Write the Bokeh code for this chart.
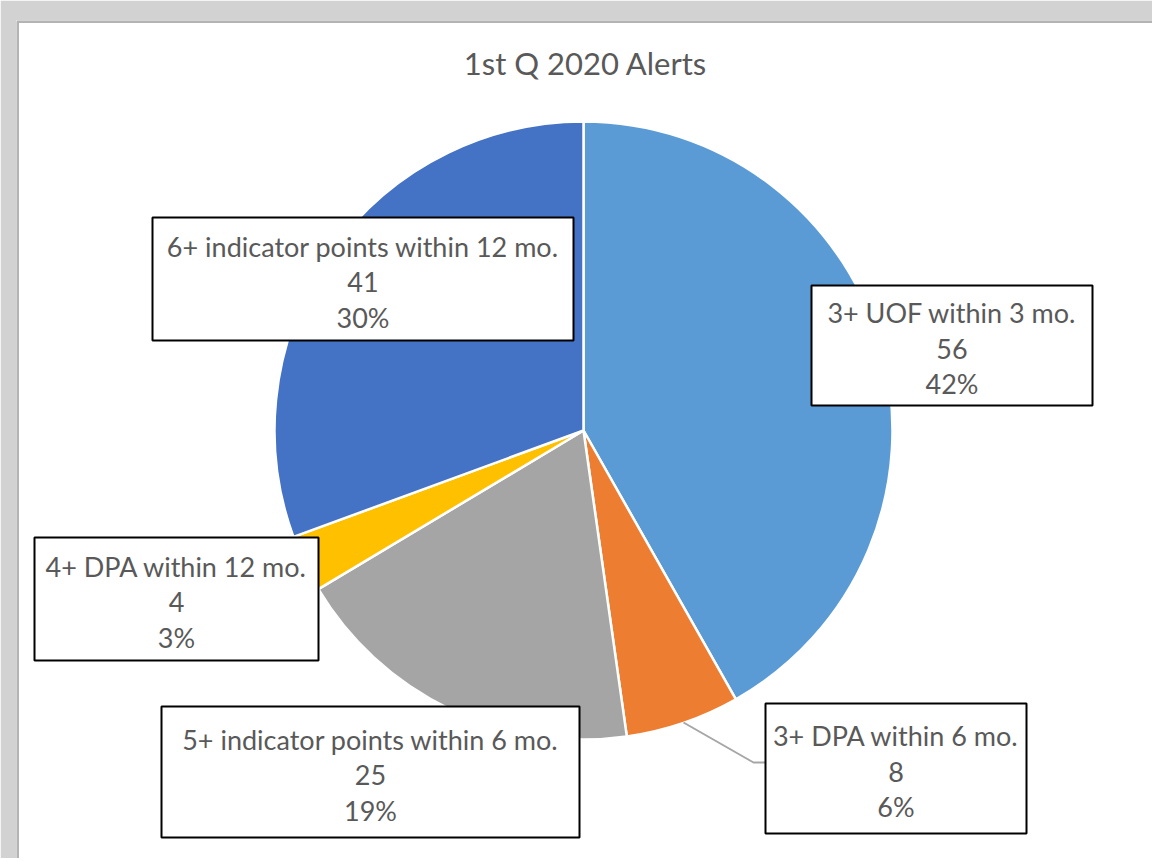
import math
from bokeh.plotting import figure
from bokeh.models import Range1d, ColumnDataSource
from bokeh.core.properties import value
from bokeh.embed import file_html
from bokeh.resources import INLINE

# ---- data ----
categories = ["3+ UOF within 3 mo.", "3+ DPA within 6 mo.", "5+ indicator points within 6 mo.",
              "4+ DPA within 12 mo.", "6+ indicator points within 12 mo."]
counts = [56, 8, 25, 4, 41]
pct_labels = ["42%", "6%", "19%", "3%", "30%"]
colors = ["#5B9BD5", "#ED7D31", "#A5A5A5", "#FFC000", "#4472C4"]
title_text = "1st Q 2020 Alerts"

# ---- layout (reference pixel coordinates) ----
CX, CY, R = 583, 430, 309
# label boxes: (left, top, right, bottom)
boxes = [(811, 285, 1092, 405), (765, 703, 1026, 833), (161, 706, 579, 837),
         (34, 537, 318, 660), (152, 217, 573, 340)]
line_offsets = [-33, 3, 38]
FONT = "Lato"
TXT = "#595959"

W, H = 1152, 858
LB, TB = 16, 20
p = figure(width=W, height=H, output_backend="svg", toolbar_location=None,
           x_range=Range1d(LB, W), y_range=Range1d(-H, -TB),
           min_border_left=LB, min_border_top=TB, min_border_right=0, min_border_bottom=0)
p.axis.visible = False
p.grid.visible = False
p.outline_line_color = None
p.border_fill_color = "#d2d2d2"
p.background_fill_color = "white"

total = sum(counts)
starts, ends = [], []
cum = 0
for c in counts:
    starts.append(math.pi / 2 - 2 * math.pi * cum / total)
    cum += c
    ends.append(math.pi / 2 - 2 * math.pi * cum / total)

src = ColumnDataSource(dict(x=[CX] * len(counts), y=[-CY] * len(counts),
                            start=starts, end=ends, color=colors))
p.wedge(x="x", y="y", radius=R, start_angle="start", end_angle="end", direction="clock",
        fill_color="color", line_color="white", line_width=2.5, source=src)

# leader line for the small orange slice
p.line(x=[683, 753, 765], y=[-722, -762, -762], line_color="#A6A6A6", line_width=2)

# darker inner edge of the frame shadow
p.line(x=[LB + 1, LB + 1, W], y=[-H, -(TB + 1), -(TB + 1)], line_color="#b4b4b4", line_width=3)

# label boxes
bl = [b[0] for b in boxes]; bt = [-b[1] for b in boxes]
br = [b[2] for b in boxes]; bb = [-b[3] for b in boxes]
p.quad(left=bl, right=br, top=bt, bottom=bb, fill_color="white",
       line_color="black", line_width=2)

xs, ys, txt = [], [], []
for i in range(len(counts)):
    cx = (boxes[i][0] + boxes[i][2]) / 2
    cy = (boxes[i][1] + boxes[i][3]) / 2
    for off, t in zip(line_offsets, [categories[i], str(counts[i]), pct_labels[i]]):
        xs.append(cx); ys.append(-(cy + off)); txt.append(t)
p.text(x=xs, y=ys, text=txt, text_align="center", text_baseline="middle",
       text_font=value(FONT), text_font_size="27px", text_color=TXT)

p.text(x=[585], y=[-62], text=[title_text], text_align="center", text_baseline="middle",
       text_font=value(FONT), text_font_size="31px", text_color=TXT)

open("out.html", "w").write(file_html(p, INLINE))
